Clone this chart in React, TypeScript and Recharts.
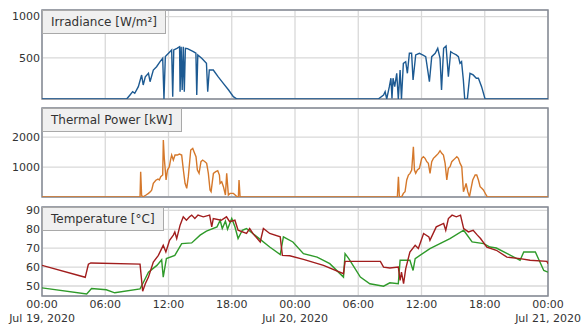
import { LineChart, Line, XAxis, YAxis, CartesianGrid, ReferenceArea } from "recharts";

// hours since Jul 19, 2020 00:00
const hourTicks = [0, 6, 12, 18, 24, 30, 36, 42, 48];
const dateLabels = ["Jul 19, 2020", "Jul 20, 2020", "Jul 21, 2020"];

const irradianceTicks = [500, 1000];
const thermalTicks = [1000, 2000];
const temperatureTicks = [50, 60, 70, 80, 90];

// [hour, W/m²]
const irradiance: [number, number][] = [
  [0, 0], [8.03, 0], [8.35, 49], [8.6, 89], [8.8, 70], [9.14, 150], [9.45, 291], [9.6, 170], [9.8, 270],
  [10.1, 312], [10.25, 210], [10.56, 352], [10.87, 392], [11.2, 453], [11.45, 494], [11.57, 0], [11.7, 514],
  [12.14, 574], [12.3, 595], [12.4, 28], [12.5, 595], [12.8, 615], [13.05, 635], [13.1, 89], [13.2, 635],
  [13.3, 110], [13.4, 635], [13.5, 89], [13.6, 615], [13.8, 612], [14.36, 574], [14.6, 555], [14.68, 49],
  [14.78, 535], [15.15, 494], [15.6, 433], [15.72, 89], [15.87, 352], [16.25, 352], [16.7, 271], [17.2, 190],
  [17.7, 109], [18.15, 28], [18.5, 0],
  [31.9, 0], [32.4, 49], [32.55, 89], [32.7, 0], [32.95, 150], [33.1, 252], [33.2, 8], [33.3, 252],
  [33.46, 150], [33.65, 312], [33.8, 0], [33.97, 352], [34.1, 0], [34.28, 433], [34.5, 453], [34.66, 312],
  [34.85, 555], [35.06, 555], [35.2, 231], [35.45, 535], [35.8, 555], [36.1, 535], [36.4, 514], [36.75, 210],
  [36.97, 514], [37.3, 555], [37.54, 615], [37.76, 494], [37.9, 109], [38.1, 615], [38.33, 643], [38.55, 271],
  [38.77, 574], [39.0, 555], [39.3, 535], [39.5, 514], [39.65, 433], [39.8, 453], [39.97, 231], [40.1, 0],
  [40.35, 0], [40.6, 312], [40.9, 292], [41.2, 252], [41.4, 252], [41.7, 150], [42.03, 0], [48, 0],
];

// [hour, kW]
const thermalPower: [number, number][] = [
  [0, 0], [9.3, 0], [9.36, 845], [9.45, 60], [9.55, 0], [9.87, 67], [10.1, 120], [10.3, 180], [10.41, 233],
  [10.56, 456], [10.8, 560], [11.0, 600], [11.13, 567], [11.26, 678], [11.45, 733], [11.51, 1900], [11.6, 1300],
  [11.77, 567], [11.9, 900], [12.08, 1011], [12.2, 1250], [12.3, 1400], [12.46, 1233], [12.62, 1400],
  [12.84, 1400], [13.03, 1433], [13.25, 1400], [13.41, 900], [13.57, 456], [13.73, 289], [13.88, 678],
  [14.11, 1567], [14.3, 1622], [14.42, 1511], [14.61, 1344], [14.74, 900], [14.9, 789], [15.08, 1178],
  [15.24, 1233], [15.46, 1178], [15.62, 1122], [15.78, 789], [15.94, 233], [16.04, 178], [16.26, 789],
  [16.48, 844], [16.67, 878], [16.83, 733], [16.89, 456], [17.05, 511], [17.21, 344], [17.4, 67], [17.52, 789],
  [17.68, 67], [17.84, 120], [18.16, 120], [18.5, 11], [18.63, 11], [18.69, 567], [18.79, 11], [19.0, 0],
  [33.71, 11], [33.81, 678], [33.9, 11], [34.13, 11], [34.28, 122], [34.44, 178], [34.6, 567], [34.76, 733],
  [34.91, 789], [35.07, 900], [35.23, 1678], [35.33, 900], [35.45, 789], [35.61, 900], [35.8, 956],
  [36.02, 1289], [36.18, 1344], [36.34, 1289], [36.5, 1178], [36.65, 1122], [36.81, 789], [36.97, 1178],
  [37.13, 1289], [37.29, 1344], [37.45, 1400], [37.6, 1456], [37.76, 1544], [37.92, 1456], [38.08, 1400],
  [38.24, 1122], [38.4, 567], [38.55, 956], [38.71, 1011], [38.87, 1178], [39.03, 1233], [39.19, 1289],
  [39.35, 1344], [39.5, 1289], [39.66, 1122], [39.82, 1011], [39.98, 178], [40.14, 344], [40.23, 456],
  [40.39, 178], [40.55, 11], [40.67, 233], [40.86, 567], [41.09, 733], [41.24, 733], [41.4, 567],
  [41.56, 344], [41.72, 289], [41.87, 233], [42.13, 67], [42.25, 0], [48, 0],
];

// [hour, °C]
const temperatureRed: [number, number][] = [
  [0, 60.9], [4.1, 54.6], [4.4, 61.5], [4.63, 62.2], [9.3, 61.6], [9.55, 47.2], [9.8, 51.2], [10.1, 54.7],
  [10.56, 62.7], [11.04, 66.2], [11.5, 71.5], [11.75, 68], [12.1, 74.2], [12.46, 76.9], [12.6, 78.6],
  [12.78, 75.1], [13.1, 82.2], [13.4, 86.6], [13.7, 84.8], [14.0, 86.6], [14.2, 87.5], [14.5, 85.7],
  [14.8, 87.5], [15.3, 86.6], [15.9, 87.5], [16.1, 81.3], [16.25, 85.7], [17.0, 84.8], [17.5, 86.6],
  [17.8, 84], [18.3, 84.8], [18.6, 79.5], [19.4, 77.8], [19.7, 80.4], [20.0, 77.8], [20.7, 73.3],
  [21.0, 80.4], [21.6, 77.8], [22.6, 76], [22.8, 66.2], [23.5, 66.0], [24.8, 64.1], [26.7, 60.9],
  [28.6, 56.5], [28.75, 63], [32.1, 63], [32.4, 60], [33.0, 59.5], [33.8, 60], [33.97, 52.9], [34.1, 57.3],
  [34.3, 51.2], [34.5, 59.1], [34.9, 68], [35.4, 71.5], [35.7, 69.8], [36.2, 77.8], [36.7, 76], [36.8, 74.2],
  [37.4, 81.3], [38.1, 83.1], [38.3, 79.5], [38.55, 85.7], [38.9, 87.5], [39.3, 86.6], [39.7, 87.5],
  [40.0, 80.4], [40.45, 78.6], [40.9, 79.5], [41.3, 76.9], [41.6, 75.1], [42.2, 70.6], [43.1, 68.9],
  [44.1, 65.3], [45.35, 64.5], [46.3, 63.6], [47.9, 63], [48, 61.8],
];

const temperatureGreen: [number, number][] = [
  [0, 49.0], [4.24, 45.8], [4.7, 48.7], [6.1, 48], [6.9, 46.4], [9.3, 48.5], [9.55, 51.2], [10.1, 57.3],
  [10.9, 60.9], [11.35, 63.9], [11.5, 54.7], [11.8, 64.5], [12.6, 66.2], [13.25, 72.4], [14.2, 72.8],
  [15.0, 76.9], [15.6, 79], [16.6, 81.3], [16.9, 84.8], [17.1, 80.4], [17.4, 84.3], [17.6, 80], [18.0, 85.7],
  [18.3, 81.3], [18.6, 75.1], [19.0, 79.5], [19.4, 80.4], [20.4, 76], [21.6, 70.6], [22.6, 66.6],
  [22.9, 76], [23.8, 73.3], [24.8, 67.1], [26.1, 65.3], [27.3, 61.8], [28.6, 54.7], [28.75, 67.1],
  [29.1, 64.5], [30.2, 54.7], [31.1, 51.2], [32.4, 49.9], [33.0, 51.7], [33.8, 51.2], [33.97, 63.6],
  [34.9, 63.6], [35.2, 58.2], [35.4, 64.5], [36.8, 69.8], [38.7, 75.1], [40.0, 79.5], [40.8, 73.3],
  [41.9, 72.4], [42.5, 70.6], [43.1, 70.1], [45.35, 63.6], [45.7, 68], [46.8, 68], [47.6, 58.2], [48, 57.3],
];

const toRows = (pairs: [number, number][]) => pairs.map(([t, v]) => ({ t, v }));

const FONT = "'DejaVu Sans', Verdana, sans-serif";
const tickStyle = { fontSize: 11, fill: "#333", fontFamily: FONT };

function HourTick({ x, y, payload }: any) {
  const h = payload.value as number;
  const label = String(h % 24).padStart(2, "0") + ":00";
  return (
    <g transform={`translate(${x},${y})`}>
      <text textAnchor="middle" dy={4} style={tickStyle}>{label}</text>
      {h % 24 === 0 && (
        <text textAnchor="middle" dy={18} style={tickStyle}>{dateLabels[h / 24]}</text>
      )}
    </g>
  );
}

function Title({ text, top }: { text: string; top: number }) {
  return (
    <div
      style={{
        position: "absolute",
        left: 42,
        top,
        height: 22,
        lineHeight: "22px",
        padding: "0 8px",
        background: "#f0f0f0",
        border: "1px solid #a9a9a9",
        fontFamily: FONT,
        fontSize: 12,
        color: "#333",
        whiteSpace: "nowrap",
      }}
    >
      {text}
    </div>
  );
}

type PanelProps = {
  top: number;
  height: number;
  margin: { top: number; right: number; bottom: number; left: number };
  domain: [number, number];
  ticks: number[];
  showX: boolean;
  children: React.ReactNode;
};

function Panel({ top, height, margin, domain, ticks, showX, children }: PanelProps) {
  return (
    <div style={{ position: "absolute", left: 0, top }}>
      <LineChart width={582} height={height} margin={margin} style={{ overflow: "visible" }}>
        <CartesianGrid stroke="#d9d9d9" strokeWidth={1.3} />
        <XAxis
          type="number"
          dataKey="t"
          domain={[0, 48]}
          ticks={hourTicks}
          allowDataOverflow
          hide={!showX}
          height={showX ? 26 : 0}
          axisLine={false}
          tickLine={false}
          tick={<HourTick />}
          interval={0}
        />
        <YAxis
          type="number"
          domain={domain}
          ticks={ticks}
          allowDataOverflow
          width={34}
          axisLine={false}
          tickLine={false}
          tickSize={0}
          tickMargin={2}
          tick={tickStyle}
          interval={0}
        />
        <ReferenceArea x1={0} x2={48} y1={domain[0]} y2={domain[1]} fill="none" stroke="#858a95" strokeWidth={1.5} />
        {children}
      </LineChart>
    </div>
  );
}

export default function App() {
  return (
    <div style={{ position: "absolute", left: 0, top: 0, width: 582, height: 324, background: "#fff", overflow: "hidden" }}>
      <Panel top={0} height={100} margin={{ top: 10, right: 34, bottom: 1, left: 8 }} domain={[0, 1080]} ticks={irradianceTicks} showX={false}>
        <Line data={toRows(irradiance)} dataKey="v" type="linear" stroke="#1d5a92" strokeWidth={1.4} dot={false} isAnimationActive={false} />
      </Panel>
      <Panel top={100} height={100} margin={{ top: 8, right: 34, bottom: 3, left: 8 }} domain={[0, 2970]} ticks={thermalTicks} showX={false}>
        <Line data={toRows(thermalPower)} dataKey="v" type="linear" stroke="#d5782b" strokeWidth={1.4} dot={false} isAnimationActive={false} />
      </Panel>
      <Panel top={200} height={124} margin={{ top: 7, right: 34, bottom: 2, left: 8 }} domain={[44.7, 91.8]} ticks={temperatureTicks} showX={true}>
        <Line data={toRows(temperatureGreen)} dataKey="v" type="linear" stroke="#2f9a2a" strokeWidth={1.4} dot={false} isAnimationActive={false} />
        <Line data={toRows(temperatureRed)} dataKey="v" type="linear" stroke="#a11d1d" strokeWidth={1.4} dot={false} isAnimationActive={false} />
      </Panel>
      <Title text="Irradiance [W/m²]" top={10} />
      <Title text="Thermal Power [kW]" top={108} />
      <Title text="Temperature [°C]" top={207} />
    </div>
  );
}
